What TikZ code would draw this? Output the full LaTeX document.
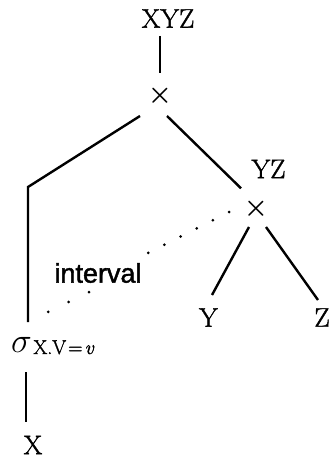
\RequirePackage{fix-cm}
\documentclass[tikz,border=0pt]{standalone}
\usepackage{fontspec}
\newfontfamily\lsans[FakeBold=1.5]{Liberation Sans}
\newfontfamily\rmheavy[FakeBold=1.5]{Latin Modern Roman}
\usetikzlibrary{calc}
\begin{document}
\begin{tikzpicture}[x=1pt,y=-1pt,
  lbl/.style={font=\rmheavy\fontsize{27}{32}\selectfont, inner sep=0pt, text height=18.4pt, text depth=0pt},
  op/.style={font=\fontsize{27}{32}\selectfont\boldmath, inner sep=0pt, text height=13.5pt, text depth=0pt},
  edge/.style={line width=2.4pt},
  dots/.style={line width=3pt, line cap=round}]
\useasboundingbox (0,0) rectangle (330,462);
\node[lbl] (xyz) at (168,18.5) {XYZ};
\node[op] (x1) at (160,96) {$\times$};
\node[lbl] (yz) at (268.5,169) {YZ};
\node[op] (x2) at (256,208.5) {$\times$};
\node[lbl] (y) at (208.5,317.5) {Y};
\node[lbl] (z) at (322,317.5) {Z};
\node[lbl] (xn) at (33,445) {X};
\node[anchor=base west, inner sep=0pt] (sig) at (11,352)
  {{\fontsize{35}{40}\selectfont$\sigma$}\kern1.5pt\raisebox{-2pt}{\rmheavy\fontsize{20}{24}\selectfont X.V\kern2pt=\kern2pt\textit{v}}};
\node[font=\lsans\fontsize{27}{32}\selectfont, inner sep=0pt, text height=19.3pt, text depth=0pt] (iv) at (98,273) {interval};
\coordinate (bend) at (28,187);
\draw[edge] ($(xyz)+(-8,17.5)$) -- ($(x1)+(0,-23)$);
\draw[edge] ($(x1)+(-20,20)$) -- (bend) -- ($(sig.base west)+(17,-30)$);
\draw[edge] ($(x1)+(7,20)$) -- ($(x2)+(-15,-20.2)$);
\draw[edge] ($(x2)+(-7,18.5)$) -- ($(y)+(3.5,-22.5)$);
\draw[edge] ($(x2)+(10,18.5)$) -- ($(z)+(-4,-17.5)$);
\draw[edge] ($(sig.base west)+(15,20)$) -- ($(xn)+(-7,-23)$);
\draw[dots, dash pattern=on 0pt off 18.1pt] ($(x2)+(-27,3.5)$) -- ($(iv)+(50,-20)$);
\draw[dots, dash pattern=on 0pt off 22.7pt] ($(iv)+(-9,19)$) -- ($(sig.base west)+(37,-40)$);
\end{tikzpicture}
\end{document}
